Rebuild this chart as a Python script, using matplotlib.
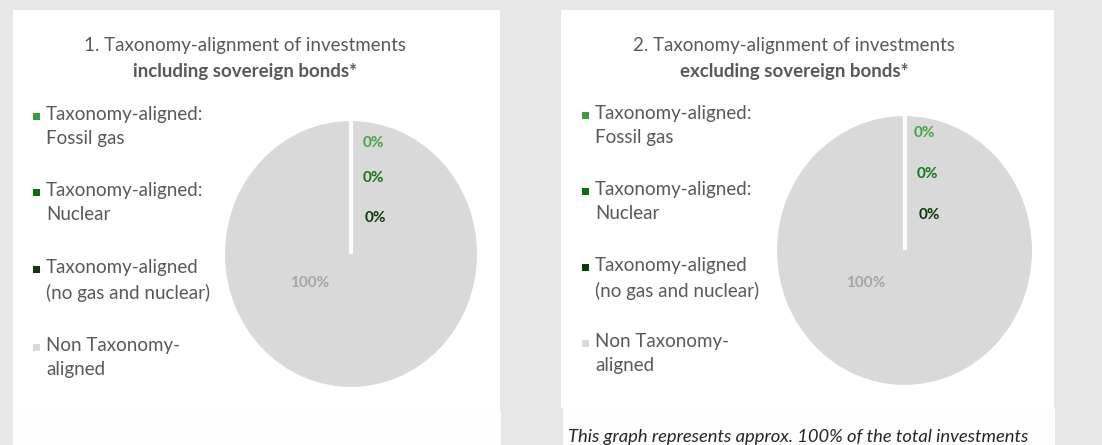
import numpy as np
import matplotlib
matplotlib.use("Agg")
import matplotlib.pyplot as plt
from matplotlib.patches import Rectangle

plt.rcParams["font.family"] = ["Lato", "DejaVu Sans"]

# data
categories = [
    "Taxonomy-aligned:\nFossil gas",
    "Taxonomy-aligned:\nNuclear",
    "Taxonomy-aligned\n(no gas and nuclear)",
    "Non Taxonomy-\naligned",
]
incl_values = [0, 0, 0, 100]
excl_values = [0, 0, 0, 100]
pct_labels_incl = ["0%", "0%", "0%", "100%"]
pct_labels_excl = ["0%", "0%", "0%", "100%"]
titles = [
    ("1. Taxonomy-alignment of investments", "including sovereign bonds*"),
    ("2. Taxonomy-alignment of investments", "excluding sovereign bonds*"),
]
footnote = "This graph represents approx. 100% of the total investments"

colors = ["#3a9f3a", "#0a700a", "#0b3a0b", "#d9d9d9"]
label_colors = ["#44a544", "#16751a", "#0c3c0c", "#a5a5a5"]
text_gray = "#595959"

W, H = 1102, 445
fig = plt.figure(figsize=(W / 100, H / 100), dpi=100)
fig.patch.set_facecolor("#e7e7e7")

bg = fig.add_axes([0, 0, 1, 1])
bg.set_xlim(0, W)
bg.set_ylim(H, 0)
bg.axis("off")

# white panels
bg.add_patch(Rectangle((13, 10), 487, 402, color="white", lw=0))
bg.add_patch(Rectangle((13, 412), 488, 40, color="#fefefe", lw=0))
bg.add_patch(Rectangle((561, 10), 493, 398, color="white", lw=0))
bg.add_patch(Rectangle((563, 408), 492, 40, color="#fefefe", lw=0))


def px_axes(x0, y0, x1, y1):
    return fig.add_axes([x0 / W, 1 - y1 / H, (x1 - x0) / W, (y1 - y0) / H])


def draw_panel(values, pcts, title, pie_box, label_pos, tx, legend_x, legend_y):
    bg.text(tx, 45, title[0], ha="center", va="center", fontsize=13.5, color=text_gray)
    bg.text(tx, 72, title[1], ha="center", va="center", fontsize=13.5,
            color=text_gray, fontweight="bold")

    for cat, col, y in zip(categories, colors, legend_y):
        bg.add_patch(Rectangle((legend_x - 3.5, y - 3.5), 7, 7, color=col, lw=0))
        bg.text(legend_x + 10, y - 10, cat, ha="left", va="top", fontsize=13.5,
                color=text_gray, linespacing=1.5)

    ax = px_axes(*pie_box)
    wedges, _ = ax.pie(values, colors=colors, startangle=90, counterclock=False,
                       wedgeprops=dict(edgecolor="white", linewidth=2.5))
    # white separator where the empty slices sit
    th = np.deg2rad(wedges[0].theta2)
    ax.plot([0, np.cos(th)], [0, np.sin(th)], color="white", lw=3,
            solid_capstyle="butt")
    ax.set_aspect("auto")
    ax.set_xlim(-1.01, 1.01)
    ax.set_ylim(-1.01, 1.01)
    for txt, col, (lx, ly) in zip(pcts, label_colors, label_pos):
        ax.text(lx, ly, txt, transform=ax.transAxes, ha="center", va="center",
                fontsize=11, fontweight="bold", color=col)


draw_panel(incl_values, pct_labels_incl, titles[0], (222, 118, 480, 390),
           [(0.585, 0.908), (0.585, 0.779), (0.593, 0.632), (0.341, 0.393)],
           245, 36, [116, 192, 269, 347])
draw_panel(excl_values, pct_labels_excl, titles[1], (774, 113, 1035, 388),
           [(0.575, 0.927), (0.586, 0.778), (0.594, 0.629), (0.352, 0.382)],
           794, 585, [115, 191, 267, 343])

bg.text(568, 437, footnote, ha="left", va="center", fontsize=13.2,
        fontstyle="italic", color="#262626")

fig.savefig("out.png", dpi=100, facecolor=fig.get_facecolor())
